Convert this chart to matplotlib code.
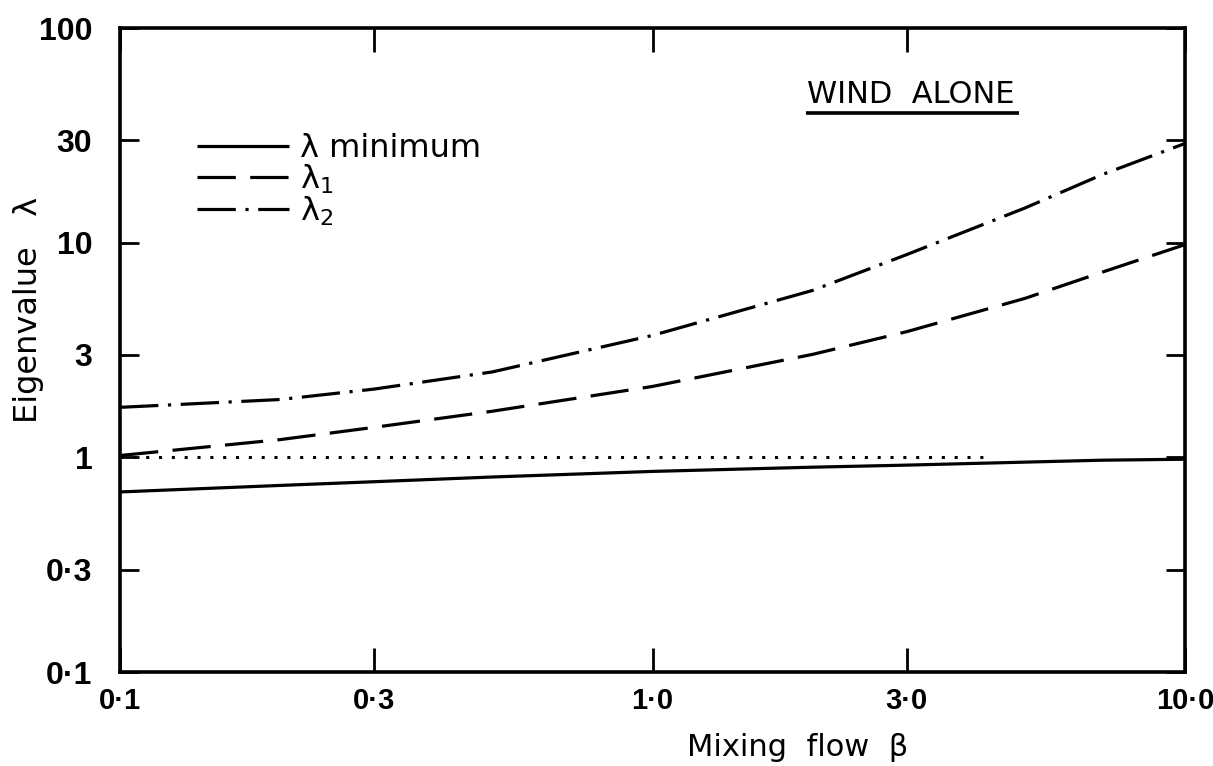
import numpy as np
import matplotlib.pyplot as plt

# values (log-log axes)
beta = [0.1, 0.2, 0.3, 0.5, 1.0, 2.0, 3.0, 5.0, 7.0, 10.0]
lam_min = [0.69, 0.74, 0.77, 0.81, 0.86, 0.90, 0.92, 0.95, 0.97, 0.98]
lam_1 = [1.02, 1.21, 1.38, 1.64, 2.14, 3.02, 3.85, 5.5, 7.3, 9.8]
lam_2 = [1.71, 1.86, 2.08, 2.5, 3.7, 6.0, 8.8, 14.5, 20.8, 29.0]

unity_beta = [0.1, 4.3]
unity_val = [1.0, 1.0]

x_ticks = [0.1, 0.3, 1.0, 3.0, 10.0]
x_labels = ['0·1', '0·3', '1·0', '3·0', '10·0']
y_ticks = [0.1, 0.3, 1, 3, 10, 30, 100]
y_labels = ['0·1', '0·3', '1', '3', '10', '30', '100']

plt.rcParams['font.family'] = ['DejaVu Sans']
tick_font = ['Liberation Sans Narrow', 'Liberation Sans']

fig = plt.figure(figsize=(12.13, 7.66), dpi=100)
ax = fig.add_axes([0.099, 0.1227, 0.878, 0.8407])

lw = 2.3
ax.plot(beta, lam_min, color='black', lw=lw, solid_capstyle='butt', label='λ minimum')
ax.plot(beta, lam_1, color='black', lw=lw, dashes=(12, 4.5), label='λ$_1$')
ax.plot(beta, lam_2, color='black', lw=lw, dashes=(12, 3, 1, 3), label='λ$_2$')
ax.plot(unity_beta, unity_val, color='black', lw=2.2, dashes=(1, 3.2))

ax.set_xscale('log')
ax.set_yscale('log')
ax.set_xlim(0.1, 10.0)
ax.set_ylim(0.1, 100)

ax.set_xticks(x_ticks)
ax.set_xticklabels(x_labels)
ax.set_yticks(y_ticks)
ax.set_yticklabels(y_labels)
ax.minorticks_off()
ax.tick_params(axis='both', which='major', direction='in', width=2, length=14,
               top=True, right=True)
ax.tick_params(axis='x', length=17, pad=11, labelsize=21)
ax.tick_params(axis='y', pad=20, labelsize=23)
for lab in ax.get_xticklabels() + ax.get_yticklabels():
    lab.set_fontweight('bold')
    lab.set_family(tick_font)

for sp in ax.spines.values():
    sp.set_linewidth(2.6)

ax.set_xlabel('Mixing  flow  β', fontsize=22)
ax.xaxis.set_label_coords(0.636, -0.095)
ax.set_ylabel('Eigenvalue   λ', fontsize=23)
ax.yaxis.set_label_coords(-0.071, 0.562)

ax.legend(loc='upper left', bbox_to_anchor=(0.072, 0.837), frameon=False,
          fontsize=23, handlelength=2.9, handletextpad=0.32, labelspacing=-0.05,
          borderaxespad=0, borderpad=0)

ax.text(0.742, 0.874, 'WIND  ALONE', transform=ax.transAxes, fontsize=22,
        ha='center', va='bottom')
ax.plot([0.644, 0.844], [0.868, 0.868], transform=ax.transAxes,
        color='black', lw=2.6, solid_capstyle='butt', clip_on=False)

fig.savefig('out.png', dpi=100)
